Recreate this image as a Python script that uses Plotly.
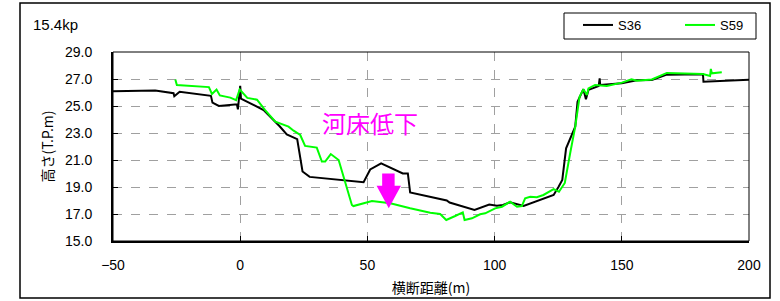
import plotly.graph_objects as go

# ---- data ----
s36_x = [-50, -33.4, -26.2, -25.9, -23.8, -11.5, -10.9, -8.4, -1.3, -0.9, 0, 0.3, 4.0, 9.2,
         15.5, 18.3, 22.4, 24.5, 27.3, 48.5, 51.1, 55.4, 63.9, 65.9, 66.8, 81.2, 82.3,
         92.1, 97.9, 100.9, 103.3, 106.1, 111.4, 123.2, 125.1, 126.6, 128.1, 131.7, 132.6,
         134.9, 135.9, 136.9, 140.9, 141.3, 141.5, 150, 155.9, 161.8, 167.7, 181.9, 182.1, 200]
s36_y = [26.1, 26.15, 25.95, 25.72, 26.05, 25.75, 25.25, 25.0, 25.13, 24.75, 26.5, 25.55, 25.2, 24.7,
         23.5, 22.9, 22.55, 20.15, 19.75, 19.35, 20.3, 20.75, 20.0, 20.0, 18.6, 18.0, 17.85,
         17.3, 17.7, 17.62, 17.67, 17.87, 17.59, 18.41, 19.0, 19.52, 21.87, 23.47, 25.32,
         26.24, 25.5, 26.19, 26.48, 27.05, 26.56, 26.68, 26.9, 26.93, 27.32, 27.35, 26.8, 26.95]

s59_x = [-25.5, -24.9, -12.3, -11.1, -9.3, -8.0, -3.9, -1.6, -0.2, 2.8, 6.6, 9.8, 13.8, 19.0,
         21.0, 23.6, 25.5, 30.1, 32.1, 33.4, 35.6, 38.7, 43.9, 44.5, 51.8, 59.0, 66.8, 74.7,
         78.6, 81.0, 84.5, 87.5, 88.2, 91.1, 94.3, 96.3, 100.2, 102.9, 106.1, 108.8, 110.7,
         112.0, 114.0, 116.6, 119.2, 123.2, 125.3, 127.6, 129.7, 131.7, 133.4, 134.9, 136.3,
         136.9, 139.5, 144.1, 150, 153.8, 155.9, 161.8, 167.7, 181.9, 184.7, 185.0, 185.4, 189.3]
s59_y = [26.97, 26.56, 26.4, 25.89, 26.22, 25.78, 25.62, 25.44, 26.22, 25.6, 25.47, 24.7, 23.84, 23.47,
         23.17, 22.85, 22.04, 21.92, 20.88, 20.88, 21.44, 21.0, 17.67, 17.59, 17.96, 17.8, 17.42, 17.1,
         17.0, 16.56, 16.85, 17.12, 16.56, 16.68, 16.98, 17.05, 17.42, 17.54, 17.91, 17.54, 17.59,
         18.16, 18.28, 18.24, 18.41, 18.85, 18.65, 19.3, 21.5, 23.47, 25.69, 26.24, 25.81,
         26.31, 26.56, 26.48, 26.73, 26.98, 26.87, 26.97, 27.45, 27.37, 27.22, 27.75, 27.42, 27.5]

x_ticks = [-50, 0, 50, 100, 150, 200]
y_ticks = [15, 17, 19, 21, 23, 25, 27, 29]

section_label = "15.4kp"
note_text = "河床低下"
note_pos = (51.1, 23.75)
# block arrow (data units): shaft x range, head x range, top, head start, tip
arrow_shaft = (55.8, 60.7)
arrow_head = (53.6, 63.2)
arrow_top, arrow_neck, arrow_tip = 20.0, 19.1, 17.42
arrow_tip_x = 58.4

FONT = "Liberation Sans, Arial, Noto Sans CJK JP"
CJK = "Noto Sans CJK JP, sans-serif"

fig = go.Figure()
fig.add_trace(go.Scatter(x=s36_x, y=s36_y, mode="lines", name="S36",
                         line=dict(color="#000000", width=2)))
fig.add_trace(go.Scatter(x=s59_x, y=s59_y, mode="lines", name="S59",
                         line=dict(color="#00ff00", width=2)))

arrow_path = (f"M {arrow_shaft[0]},{arrow_top} L {arrow_shaft[1]},{arrow_top} "
              f"L {arrow_shaft[1]},{arrow_neck} L {arrow_head[1]},{arrow_neck} "
              f"L {arrow_tip_x},{arrow_tip} L {arrow_head[0]},{arrow_neck} "
              f"L {arrow_shaft[0]},{arrow_neck} Z")

W, H = 780, 301
L, R, T, B = 113, 31, 52, 60
pw, ph = W - L - R, H - T - B

def px(x):
    return (x - L) / pw

def py(y):
    return (H - B - y) / ph

fig.update_layout(
    width=W, height=H,
    margin=dict(l=L, r=R, t=T, b=B, autoexpand=False),
    paper_bgcolor="white", plot_bgcolor="white",
    font=dict(family=FONT, size=13, color="black"),
    showlegend=True,
    legend=dict(orientation="h", x=px(578), xanchor="left", y=py(25), yanchor="middle",
                borderwidth=0, bgcolor="rgba(0,0,0,0)",
                font=dict(size=13, family=FONT, color="black"), entrywidth=57,
                itemwidth=30),
    shapes=[
        dict(type="path", path=arrow_path, xref="x", yref="y",
             fillcolor="#ff00ff", line=dict(width=0)),
        dict(type="rect", xref="paper", yref="paper", x0=0, x1=1, y0=0, y1=1,
             line=dict(color="black", width=1)),
        dict(type="rect", xref="paper", yref="paper", x0=px(20), x1=px(770), y0=py(298), y1=py(3),
             line=dict(color="black", width=1.5)),
        dict(type="rect", xref="paper", yref="paper", x0=px(564), x1=px(756), y0=py(39), y1=py(13),
             line=dict(color="black", width=1)),
    ],
    annotations=[
        dict(text=note_text, x=note_pos[0], y=note_pos[1], xref="x", yref="y",
             showarrow=False, font=dict(family=CJK, size=24, color="#ff00ff")),
        dict(text=section_label, x=px(31), y=py(24), xref="paper", yref="paper",
             xanchor="left", yanchor="middle", showarrow=False,
             font=dict(family=FONT, size=15, color="black")),
    ],
)

fig.update_xaxes(range=[-50, 200], tickvals=x_ticks, ticks="inside", ticklen=5, tickcolor="black",
                 showline=True, linecolor="black", linewidth=2, automargin=False,
                 showgrid=True, gridcolor="#a0a0a0", griddash="dash", gridwidth=1,
                 zeroline=False, tickfont=dict(size=14, family=FONT, color="black"),
                 ticklabelstandoff=10,
                 title=dict(text="横断距離(m)", font=dict(size=14, family=CJK, color="black"),
                            standoff=11))
fig.update_yaxes(range=[15, 29], tickvals=y_ticks, tickformat=".1f", ticks="inside", ticklen=5,
                 tickcolor="black", showline=True, linecolor="black", linewidth=2, automargin=False,
                 showgrid=True, gridcolor="#a0a0a0", griddash="dash", gridwidth=1,
                 zeroline=False, tickfont=dict(size=14, family=FONT, color="black"),
                 ticklabelstandoff=16,
                 title=dict(text="高さ(T.P.m)", font=dict(size=14, family=CJK, color="black"),
                            standoff=8))

fig.write_html("out.html", config={"displayModeBar": False},
               post_script="document.body.style.margin='0';")
